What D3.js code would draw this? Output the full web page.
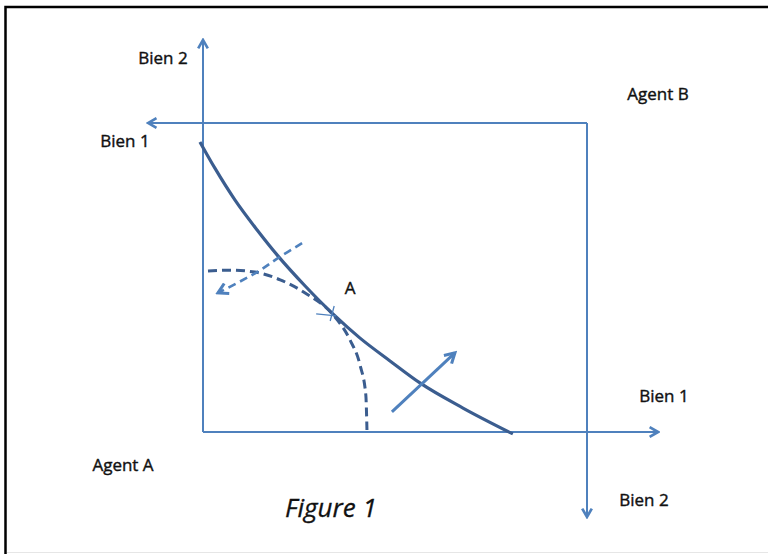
<!DOCTYPE html>
<html>
<head>
<meta charset="utf-8">
<script src="https://cdn.jsdelivr.net/npm/d3@7/dist/d3.min.js"></script>
<style>
  body { margin: 0; background: #fff; }
  text { font-family: "Open Sans", "Noto Sans", sans-serif; fill: #111; }
</style>
</head>
<body>
<div id="chart"></div>
<script>
// Edgeworth box, in units of goods (agent A origin at 0,0; agent B origin at box corner)
const boxSize = [10, 8];

// indifference curve through the allocation (solid)
const curveA = [
  [-0.08, 7.51], [0.31, 6.83], [0.83, 6.01], [1.41, 5.23], [1.95, 4.56],
  [2.66, 3.78], [3.39, 3.05], [4.09, 2.43], [4.87, 1.84], [5.65, 1.27],
  [6.77, 0.62], [8.07, -0.05]
];

// second indifference curve (dashed)
const curveB = [
  [0.13, 4.17], [0.70, 4.19], [1.35, 4.14], [2.01, 3.94], [2.66, 3.60],
  [3.39, 3.03], [3.83, 2.38], [4.09, 1.73], [4.24, 0.96], [4.27, 0.05]
];

// direction arrows
const arrowB = [[2.58, 4.89], [1.95, 4.50], [1.41, 4.14], [0.39, 3.60]];
const arrowA = [[4.92, 0.52], [6.56, 2.05]];

const pointA = [3.39, 3.03];

// axis lengths beyond the origins
const axisA = { x: 11.85, y: 10.15 };
const axisB = { x: -1.43, y: -2.2 };

const width = 768, height = 554;
const svg = d3.select('#chart').append('svg')
    .attr('width', width)
    .attr('height', height);

const x = d3.scaleLinear().domain([0, boxSize[0]]).range([203, 587]);
const y = d3.scaleLinear().domain([0, boxSize[1]]).range([432, 123]);

const axisColor = '#4f81bd';
const darkBlue = '#3b5d8f';

// frame
svg.append('rect')
    .attr('x', 5.5).attr('y', 7)
    .attr('width', 800).attr('height', 560)
    .attr('fill', 'none')
    .attr('stroke', '#000')
    .attr('stroke-width', 2.5);
svg.append('line')
    .attr('x1', 7).attr('x2', width)
    .attr('y1', 552.5).attr('y2', 552.5)
    .attr('stroke', '#e6e6e6');

// arrow markers
const defs = svg.append('defs');
function marker(id, color, size) {
  defs.append('marker')
      .attr('id', id)
      .attr('viewBox', '0 -5 10 10')
      .attr('refX', 8).attr('refY', 0)
      .attr('markerWidth', size).attr('markerHeight', size)
      .attr('markerUnits', 'userSpaceOnUse')
      .attr('orient', 'auto')
    .append('path')
      .attr('d', 'M1,-4L8,0L1,4')
      .attr('fill', 'none')
      .attr('stroke', color)
      .attr('stroke-width', 2.2);
}
marker('axArrow', axisColor, 12);
marker('bigArrow', axisColor, 14);

const line = d3.line().x(d => x(d[0])).y(d => y(d[1]));

// agent A axes
svg.append('line')
    .attr('x1', x(0)).attr('y1', y(0))
    .attr('x2', x(axisA.x)).attr('y2', y(0))
    .attr('stroke', axisColor).attr('stroke-width', 2)
    .attr('marker-end', 'url(#axArrow)');
svg.append('line')
    .attr('x1', x(0)).attr('y1', y(0))
    .attr('x2', x(0)).attr('y2', y(axisA.y))
    .attr('stroke', axisColor).attr('stroke-width', 2)
    .attr('marker-end', 'url(#axArrow)');

// agent B axes
svg.append('line')
    .attr('x1', x(boxSize[0])).attr('y1', y(boxSize[1]))
    .attr('x2', x(axisB.x)).attr('y2', y(boxSize[1]))
    .attr('stroke', axisColor).attr('stroke-width', 2)
    .attr('marker-end', 'url(#axArrow)');
svg.append('line')
    .attr('x1', x(boxSize[0])).attr('y1', y(boxSize[1]))
    .attr('x2', x(boxSize[0])).attr('y2', y(axisB.y))
    .attr('stroke', axisColor).attr('stroke-width', 2)
    .attr('marker-end', 'url(#axArrow)');

// dashed curve
svg.append('path')
    .attr('d', line.curve(d3.curveMonotoneX)(curveB))
    .attr('fill', 'none')
    .attr('stroke', darkBlue)
    .attr('stroke-width', 3)
    .attr('stroke-dasharray', '9,5');

// solid curve
svg.append('path')
    .attr('d', line.curve(d3.curveMonotoneX)(curveA))
    .attr('fill', 'none')
    .attr('stroke', darkBlue)
    .attr('stroke-width', 3.2);

// dashed arrow
svg.append('path')
    .attr('d', line.curve(d3.curveCatmullRom)(arrowB))
    .attr('fill', 'none')
    .attr('stroke', axisColor)
    .attr('stroke-width', 2.6)
    .attr('stroke-dasharray', '8,5')
    .attr('marker-end', 'url(#bigArrow)');

// solid arrow
svg.append('path')
    .attr('d', line.curve(d3.curveLinear)(arrowA))
    .attr('fill', 'none')
    .attr('stroke', axisColor)
    .attr('stroke-width', 3)
    .attr('marker-end', 'url(#bigArrow)');

// small cross at A
const px = x(pointA[0]), py = y(pointA[1]);
svg.append('line')
    .attr('x1', px - 17).attr('y1', py - 1)
    .attr('x2', px + 3).attr('y2', py + 1)
    .attr('stroke', axisColor).attr('stroke-width', 1.3);
svg.append('line')
    .attr('x1', px + 1).attr('y1', py - 9)
    .attr('x2', px - 3).attr('y2', py + 6)
    .attr('stroke', axisColor).attr('stroke-width', 1.3);

// labels
const labels = [
  ['Bien 2', 163, 64],
  ['Bien 1', 125, 147],
  ['Agent B', 658, 100],
  ['Bien 1', 664, 402],
  ['Agent A', 123, 471],
  ['Bien 2', 644, 506],
  ['A', 350, 294]
];
labels.forEach(l => {
  svg.append('text')
      .attr('x', l[1]).attr('y', l[2])
      .attr('text-anchor', 'middle')
      .attr('font-size', 17)
      .attr('stroke', '#111')
      .attr('stroke-width', 0.4)
      .text(l[0]);
});

svg.append('text')
    .attr('x', 331).attr('y', 517)
    .attr('text-anchor', 'middle')
    .attr('font-size', 26)
    .attr('font-style', 'italic')
    .attr('stroke', '#111')
    .attr('stroke-width', 0.3)
    .text('Figure 1');
</script>
</body>
</html>
